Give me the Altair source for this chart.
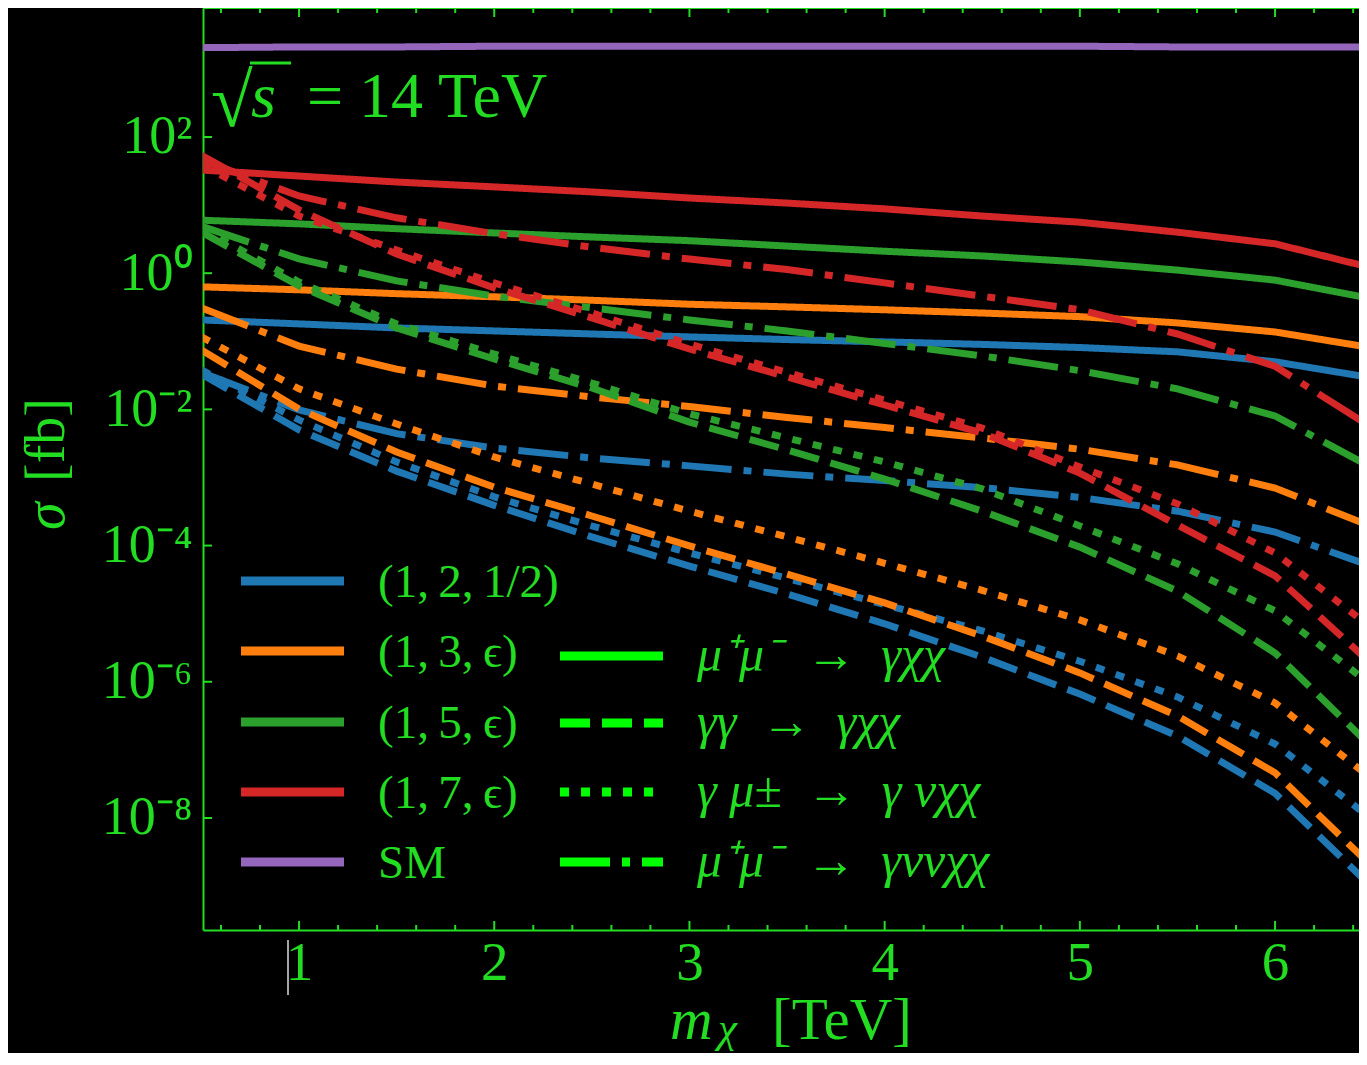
import altair as alt
import pandas as pd

# ---------------- data (sigma in fb) ----------------
m_chi = [0.5, 1.0, 1.5, 2.0, 2.5, 3.0, 3.5, 4.0, 4.5, 5.0, 5.5, 6.0, 6.5]

models = ["(1,\u20092,\u20091/2)", "(1,\u20093,\u2009ϵ)", "(1,\u20095,\u2009ϵ)", "(1,\u20097,\u2009ϵ)", "SM"]
model_colors = ["#1f77b4", "#ff7f0e", "#2ca02c", "#d62728", "#9467bd"]
processes = ["μ⁺μ⁻\u2002→\u2002γχχ", "γγ\u2002→\u2002γχχ", "γ μ±\u2002→\u2002γ νχχ", "μ⁺μ⁻\u2002→\u2002γννχχ"]
process_dash = [[1, 0], [30, 12], [9, 12], [50, 12, 8, 12]]

sm_solid = [2050, 2100, 2100, 2150, 2150, 2150, 2150, 2150, 2150, 2150, 2100, 2100, 2100]

blue_solid = [0.206, 0.180, 0.157, 0.142, 0.128, 0.116, 0.106, 0.098, 0.090, 0.081, 0.070, 0.050, 0.029]
blue_dashed = [0.033, 0.0050, 0.00124, 0.00039, 0.000134, 5.0e-5, 1.95e-5, 7.1e-6, 2.3e-6, 6.6e-7, 1.6e-7, 2.3e-8, 9.4e-10]
blue_dotted = [0.038, 0.0070, 0.00169, 0.00052, 0.000194, 7.8e-5, 3.3e-5, 1.36e-5, 5.6e-6, 2.0e-6, 6.0e-7, 1.22e-7, 9.4e-9]
blue_dashdot = [0.035, 0.0098, 0.0044, 0.0027, 0.00193, 0.00148, 0.00112, 0.00090, 0.00071, 0.00051, 0.00032, 0.000158, 4.9e-5]

orange_solid = [0.63, 0.57, 0.50, 0.45, 0.40, 0.35, 0.32, 0.29, 0.26, 0.23, 0.186, 0.137, 0.080]
orange_dashed = [0.0745, 0.0101, 0.00237, 0.00072, 0.000272, 9.9e-5, 3.8e-5, 1.44e-5, 4.7e-6, 1.35e-6, 3.15e-7, 4.6e-8, 1.9e-9]
orange_dotted = [0.116, 0.020, 0.0061, 0.0020, 0.00080, 0.00032, 0.000134, 5.5e-5, 2.2e-5, 8.1e-6, 2.4e-6, 4.9e-7, 3.7e-8]
orange_dashdot = [0.31, 0.085, 0.039, 0.022, 0.0152, 0.0110, 0.0076, 0.0054, 0.0038, 0.0026, 0.00153, 0.00070, 0.000187]

green_solid = [6.0, 5.3, 4.5, 3.9, 3.4, 3.0, 2.5, 2.1, 1.79, 1.46, 1.11, 0.79, 0.42]
green_dashed = [4.0, 0.65, 0.157, 0.055, 0.0206, 0.0065, 0.00254, 0.00095, 0.00032, 9.5e-5, 2.15e-5, 2.65e-6, 1.07e-7]
green_dotted = [4.6, 0.74, 0.180, 0.065, 0.0244, 0.0086, 0.0038, 0.00169, 0.00068, 0.000194, 5.4e-5, 1.1e-5, 8.7e-7]
green_dashdot = [4.9, 1.62, 0.77, 0.46, 0.31, 0.206, 0.142, 0.093, 0.061, 0.037, 0.020, 0.0080, 0.00138]

red_solid = [32.7, 26.7, 21.8, 18.5, 15.6, 12.7, 10.7, 8.8, 6.9, 5.6, 4.0, 2.7, 1.19]
red_dashed = [54, 8.5, 1.91, 0.61, 0.22, 0.077, 0.030, 0.0116, 0.0045, 0.00116, 0.000200, 3.6e-5, 1.77e-6]
red_dotted = [38.8, 6.9, 2.19, 0.72, 0.26, 0.091, 0.035, 0.0137, 0.0053, 0.00143, 0.00041, 7.8e-5, 6.0e-6]
red_dashdot = [46, 13.6, 6.5, 3.8, 2.4, 1.61, 1.13, 0.72, 0.46, 0.29, 0.128, 0.043, 0.0053]

y_tick_values = [1e2, 1e0, 1e-2, 1e-4, 1e-6, 1e-8]
x_major_ticks = [1, 2, 3, 4, 5, 6]
x_minor_ticks = [0.6, 0.8, 1.2, 1.4, 1.6, 1.8, 2.2, 2.4, 2.6, 2.8, 3.2, 3.4, 3.6, 3.8,
                 4.2, 4.4, 4.6, 4.8, 5.2, 5.4, 5.6, 5.8, 6.2, 6.4]

series = [
    (models[0], processes[0], blue_solid), (models[0], processes[1], blue_dashed),
    (models[0], processes[2], blue_dotted), (models[0], processes[3], blue_dashdot),
    (models[1], processes[0], orange_solid), (models[1], processes[1], orange_dashed),
    (models[1], processes[2], orange_dotted), (models[1], processes[3], orange_dashdot),
    (models[2], processes[0], green_solid), (models[2], processes[1], green_dashed),
    (models[2], processes[2], green_dotted), (models[2], processes[3], green_dashdot),
    (models[3], processes[0], red_solid), (models[3], processes[1], red_dashed),
    (models[3], processes[2], red_dotted), (models[3], processes[3], red_dashdot),
    (models[4], processes[0], sm_solid),
]
rows = []
for model, proc, vals in series:
    for xv, sv in zip(m_chi, vals):
        rows.append({"model": model, "process": proc, "m": xv, "sigma": sv})
df = pd.DataFrame(rows)

# ---------------- styling ----------------
GREEN = "#22dd22"
BRIGHT = "#00ff00"
SERIF = "Liberation Serif"
W, H = 1156, 922

x_scale = alt.Scale(domain=[0.508, 6.43], nice=False, zero=False)
y_scale = alt.Scale(type="log", domain=[2.265e-10, 7834], nice=False)

label_expr = ("datum.value > 10 ? '10²' : datum.value > 0.1 ? '10⁰' : "
              "datum.value > 0.001 ? '10⁻²' : datum.value > 0.00001 ? '10⁻⁴' : "
              "datum.value > 0.0000001 ? '10⁻⁶' : '10⁻⁸'")

x_axis = alt.Axis(values=x_major_ticks, format="d", ticks=False, grid=False,
                  labelFont=SERIF, labelFontSize=55, labelColor=GREEN,
                  labelPadding=6, domainColor=GREEN, domainWidth=2, title=None)
y_axis = alt.Axis(values=y_tick_values, labelExpr=label_expr, ticks=False, grid=False,
                  labelFont=SERIF, labelFontSize=54, labelColor=GREEN,
                  labelPadding=11, labelBaseline="middle",
                  domainColor=GREEN, domainWidth=2, title=None)

lines = alt.Chart(df).mark_line(strokeWidth=7, clip=True, strokeCap="butt").encode(
    x=alt.X("m:Q", scale=x_scale, axis=x_axis),
    y=alt.Y("sigma:Q", scale=y_scale, axis=y_axis),
    color=alt.Color("model:N", scale=alt.Scale(domain=models, range=model_colors), legend=None),
    strokeDash=alt.StrokeDash("process:N", scale=alt.Scale(domain=processes, range=process_dash),
                              legend=None),
)

# inward ticks
ytick_df = pd.DataFrame({"v": y_tick_values})
xmaj_df = pd.DataFrame({"v": x_major_ticks})
xmin_df = pd.DataFrame({"v": x_minor_ticks})

y_ticks = alt.Chart(ytick_df).mark_rule(color=GREEN, strokeWidth=2).encode(
    y=alt.Y("v:Q", scale=y_scale, axis=y_axis), x=alt.value(0), x2=alt.value(9))
xb_major = alt.Chart(xmaj_df).mark_rule(color=GREEN, strokeWidth=2).encode(
    x=alt.X("v:Q", scale=x_scale, axis=x_axis), y=alt.value(H), y2=alt.value(H - 9))
xb_minor = alt.Chart(xmin_df).mark_rule(color=GREEN, strokeWidth=2).encode(
    x=alt.X("v:Q", scale=x_scale, axis=x_axis), y=alt.value(H), y2=alt.value(H - 5))
xt_major = alt.Chart(xmaj_df).mark_rule(color=GREEN, strokeWidth=2).encode(
    x=alt.X("v:Q", scale=x_scale, axis=x_axis), y=alt.value(0), y2=alt.value(9))
xt_minor = alt.Chart(xmin_df).mark_rule(color=GREEN, strokeWidth=2).encode(
    x=alt.X("v:Q", scale=x_scale, axis=x_axis), y=alt.value(0), y2=alt.value(5))

top_frame = alt.Chart(pd.DataFrame({"a": [0]})).mark_rule(color=GREEN, strokeWidth=2).encode(
    x=alt.value(0), x2=alt.value(W), y=alt.value(0))


def label(text, x, y, size, style="normal", angle=0, align="left", color=GREEN):
    return alt.Chart(pd.DataFrame({"t": [text]})).mark_text(
        font=SERIF, fontSize=size, fontStyle=style, color=color, align=align,
        baseline="alphabetic", angle=angle).encode(
        text="t:N", x=alt.value(x), y=alt.value(y))


# ---------------- legends (two columns, drawn from the category lists) ----------------
legend_layers = []
model_rows_y = [573, 643, 714, 784, 854]
for name, col, ry in zip(models, model_colors, model_rows_y):
    legend_layers.append(
        alt.Chart(pd.DataFrame({"t": [name]})).mark_rule(color=col, strokeWidth=9).encode(
            x=alt.value(38), x2=alt.value(141), y=alt.value(ry)))
    legend_layers.append(label(name, 175, ry + 16, 47))

process_rows_y = [648, 715, 784, 854]
for name, dash, ry in zip(processes, process_dash, process_rows_y):
    legend_layers.append(
        alt.Chart(pd.DataFrame({"t": [name]})).mark_rule(
            color=BRIGHT, strokeWidth=9, strokeDash=dash, strokeCap="butt").encode(
            x=alt.value(357), x2=alt.value(460), y=alt.value(ry)))
    legend_layers.append(label(name, 494, ry + 15, 50, style="italic"))

# sqrt(s) = 14 TeV
root = label("√", 8, 118, 76)
root_bar = alt.Chart(pd.DataFrame({"a": [0]})).mark_rule(color=GREEN, strokeWidth=3).encode(
    x=alt.value(47), x2=alt.value(88), y=alt.value(55))
s_txt = label("s", 48, 109, 64, style="italic")
energy = label("= 14 TeV", 104, 109, 64)

# axis titles
ytitle_sigma = label("σ", -139, 522, 56, style="italic", angle=270)
ytitle_unit = label("[fb]", -139, 474, 56, angle=270)
xtitle_m = label("m", 467, 1031, 59, style="italic")
xtitle_chi = label("χ", 515, 1034, 43, style="italic")
xtitle_unit = label("[TeV]", 569, 1031, 59)

cursor = alt.Chart(pd.DataFrame({"a": [0]})).mark_rule(color="#dddddd", strokeWidth=1.5).encode(
    x=alt.value(85), y=alt.value(932), y2=alt.value(987))

chart = alt.layer(
    lines, y_ticks, xb_major, xb_minor, xt_major, xt_minor, top_frame,
    *legend_layers,
    root, root_bar, s_txt, energy,
    ytitle_sigma, ytitle_unit, xtitle_m, xtitle_chi, xtitle_unit, cursor,
).properties(
    width=W, height=H,
    autosize=alt.AutoSizeParams(type="none"),
    padding={"left": 195, "top": 0, "right": 0, "bottom": 123},
).configure(background="black").configure_view(strokeWidth=0)

chart.save("out.html", embed_options={"renderer": "svg", "actions": False})
